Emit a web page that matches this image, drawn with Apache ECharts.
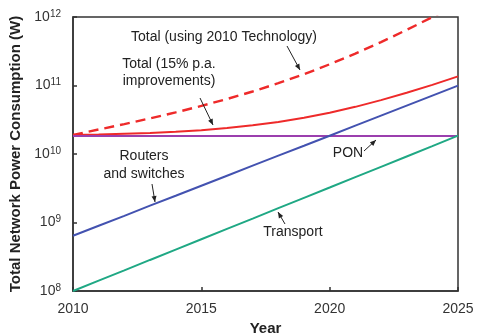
<!DOCTYPE html>
<html>
<head>
<meta charset="utf-8">
<script src="https://cdn.jsdelivr.net/npm/echarts@6/dist/echarts.min.js"></script>
<style>html,body{margin:0;padding:0;background:#fff}#c{width:477px;height:334px}</style>
</head>
<body>
<div id="c"></div>
<script>
// Years (x axis)
const years = [2010,2011,2012,2013,2014,2015,2016,2017,2018,2019,2020,2021,2022,2023,2024,2025];
// Power consumption in W
const totalTech2010 = [1.90e10,2.28e10,2.73e10,3.31e10,4.05e10,5.03e10,6.35e10,8.17e10,1.08e11,1.46e11,2.04e11,2.92e11,4.30e11,6.48e11,9.96e11,1.56e12];
const total15 = [1.90e10,1.93e10,1.98e10,2.03e10,2.12e10,2.23e10,2.39e10,2.62e10,2.94e10,3.38e10,4.01e10,4.88e10,6.11e10,7.83e10,1.02e11,1.36e11];
const routers = [6.4e8,8.96e8,1.25e9,1.76e9,2.46e9,3.44e9,4.82e9,6.75e9,9.45e9,1.32e10,1.85e10,2.59e10,3.63e10,5.08e10,7.11e10,9.96e10];
const transport = [1.0e8,1.42e8,2.0e8,2.84e8,4.02e8,5.69e8,8.06e8,1.14e9,1.62e9,2.29e9,3.24e9,4.59e9,6.5e9,9.2e9,1.30e10,1.85e10];
const pon = [1.83e10,1.83e10,1.83e10,1.83e10,1.83e10,1.83e10,1.83e10,1.83e10,1.83e10,1.83e10,1.83e10,1.83e10,1.83e10,1.83e10,1.83e10,1.83e10];
const xTicks = [2010,2015,2020,2025];
const yTicks = [1e8,1e9,1e10,1e11,1e12];

const pair = arr => years.map((y,i)=>[y,arr[i]]);
const chart = echarts.init(document.getElementById('c'), null, {renderer:'canvas'});
const FONT = 'Liberation Sans, Arial, sans-serif';
const arrowLine = (from, to) => ({
  type:'line', silent:true, z:10,
  shape:{x1:from[0],y1:from[1],x2:to[0],y2:to[1]},
  style:{stroke:'#222',lineWidth:1}
});
const arrowHead = (from, to) => {
  const ang = Math.atan2(to[1]-from[1], to[0]-from[0]);
  const L = 6, W = 2.5;
  const bx = to[0]-L*Math.cos(ang), by = to[1]-L*Math.sin(ang);
  const nx = -Math.sin(ang), ny = Math.cos(ang);
  return {type:'polygon', silent:true, z:10,
    shape:{points:[[to[0],to[1]],[bx+nx*W,by+ny*W],[bx-nx*W,by-ny*W]]},
    style:{fill:'#222'}};
};
const arrow = (from,to) => [arrowLine(from,to), arrowHead(from,to)];
const txt = (x,y,s,align) => ({type:'text', silent:true, z:10, x:x, y:y,
  style:{text:s, font:'14px '+FONT, fill:'#222', align:align||'center', verticalAlign:'middle'}});

const option = {
  animation:false,
  grid:{left:73, right:19, top:17, bottom:43, show:true, borderColor:'#333', borderWidth:1.5,
    backgroundColor:'transparent', outerBoundsMode:'none', containLabel:false},
  xAxis:{
    type:'value', min:2010, max:2025, interval:5,
    name:'Year', nameLocation:'middle', nameGap:29,
    nameTextStyle:{fontFamily:FONT, fontWeight:'bold', fontSize:15, color:'#222'},
    axisLine:{show:true, lineStyle:{color:'#333', width:1.5}},
    axisTick:{show:true, inside:true, length:4, lineStyle:{color:'#333', width:1.5}},
    axisLabel:{fontFamily:FONT, fontSize:14, color:'#333', margin:11,
      formatter: v => xTicks.includes(v) ? String(v) : ''},
    splitLine:{show:false}
  },
  yAxis:{
    type:'log', logBase:10, min:yTicks[0], max:yTicks[yTicks.length-1],
    name:'Total Network Power Consumption (W)', nameLocation:'middle', nameGap:48,
    nameTextStyle:{fontFamily:FONT, fontWeight:'bold', fontSize:15, color:'#222'},
    axisLine:{show:true, lineStyle:{color:'#333', width:1.5}},
    axisTick:{show:true, inside:true, length:4, lineStyle:{color:'#333', width:1.5}},
    axisLabel:{fontFamily:FONT, color:'#333', margin:12,
      formatter: v => '{b|10}{s|' + Math.round(Math.log10(v)) + '}',
      rich:{b:{fontSize:14, fontFamily:FONT, color:'#333'},
            s:{fontSize:10, fontFamily:FONT, color:'#333', verticalAlign:'top', padding:[0,0,6,0]}}},
    splitLine:{show:false}
  },
  series:[
    {name:'Total (using 2010 Technology)', type:'line', data:pair(totalTech2010), showSymbol:false, clip:true,
      lineStyle:{color:'#ee2a2a', width:2.4, type:[10,6]}},
    {name:'Total (15% p.a. improvements)', type:'line', data:pair(total15), showSymbol:false, clip:true,
      lineStyle:{color:'#ee2a2a', width:2}},
    {name:'PON', type:'line', data:pair(pon), showSymbol:false,
      lineStyle:{color:'#9b3fae', width:2}},
    {name:'Routers and switches', type:'line', data:pair(routers), showSymbol:false,
      lineStyle:{color:'#4352b0', width:2}},
    {name:'Transport', type:'line', data:pair(transport), showSymbol:false,
      lineStyle:{color:'#1fa884', width:2}}
  ],
  graphic:[
    txt(224,37,'Total (using 2010 Technology)'),
    txt(169,64,'Total (15% p.a.'),
    txt(169,81,'improvements)'),
    txt(144,156,'Routers'),
    txt(144,174,'and switches'),
    txt(348,153,'PON'),
    txt(293,232,'Transport'),
    ...arrow([287,46],[300,70]),
    ...arrow([200,98],[213,125]),
    ...arrow([152,184],[155,202]),
    ...arrow([364,151],[376,140]),
    ...arrow([285,224],[278,212])
  ]
};
chart.setOption(option);
</script>
</body>
</html>
